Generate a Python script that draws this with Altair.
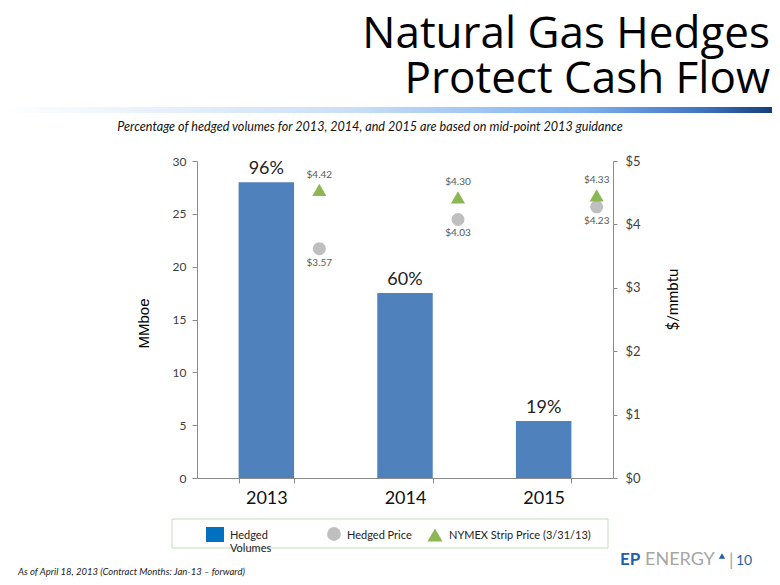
import altair as alt
import pandas as pd

# ---- data ----
years = ["2013", "2014", "2015"]
volumes = [28.0, 17.5, 5.4]            # MMboe
pct_labels = ["96%", "60%", "19%"]
hedged_price = [3.57, 4.03, 4.23]      # $/mmbtu
nymex_price = [4.42, 4.30, 4.33]       # $/mmbtu

df = pd.DataFrame({
    "year": years,
    "volume": volumes,
    "pct": pct_labels,
    "hedged": hedged_price,
    "nymex": nymex_price,
})

# plot-area origin on the page (page x = 197, y = 161)
OX, OY = 197, 161
W, H = 416, 317
CAL = "Lato"
one = pd.DataFrame({"a": [0]})


def txt(text, px, py, size, color="#000000", align="left", font=CAL,
        style="normal", weight="normal", angle=0, baseline="alphabetic"):
    return alt.Chart(one).mark_text(
        text=text, align=align, baseline=baseline, font=font, fontSize=size,
        color=color, fontStyle=style, fontWeight=weight, angle=angle,
    ).encode(x=alt.value(px - OX), y=alt.value(py - OY))


x_axis = alt.Axis(
    title=None, labelAngle=0, labelFont=CAL, labelFontSize=18,
    labelColor="#111111", labelPadding=6, tickBand="extent",
    tickSize=5, tickColor="#8c8c8c", domainColor="#8c8c8c",
)
x_scale = alt.Scale(paddingInner=0.6, paddingOuter=0.3)
x_enc = alt.X("year:N", scale=x_scale, axis=x_axis)

vol_scale = alt.Scale(domain=[0, 30])
price_scale = alt.Scale(domain=[0, 5])

vol_axis = alt.Axis(
    values=[0, 5, 10, 15, 20, 25, 30], grid=False, title="MMboe",
    titleFont="Liberation Sans", titleFontSize=15, titleFontWeight="normal",
    titleColor="#000000", titleAngle=-90, titleX=-54, titleY=162,
    titleAlign="center", titleBaseline="middle",
    labelFont=CAL, labelFontSize=12, labelColor="#404040", labelPadding=6,
    tickSize=5, tickColor="#8c8c8c", domainColor="#8c8c8c",
)

bars = alt.Chart(df).mark_bar(color="#4F81BD").encode(
    x=x_enc,
    y=alt.Y("volume:Q", scale=vol_scale, axis=vol_axis),
)
pct_text = alt.Chart(df).mark_text(
    font=CAL, fontSize=18, color="#222222", baseline="bottom", dy=-4
).encode(
    x=x_enc,
    y=alt.Y("volume:Q", scale=vol_scale, axis=vol_axis),
    text="pct:N",
)
left = alt.layer(bars, pct_text)

price_axis = alt.Axis(
    orient="right", values=[0, 1, 2, 3, 4, 5], grid=False,
    labelExpr="'$' + datum.label", title="$/mmbtu",
    titleFont=CAL, titleFontSize=15, titleFontWeight="normal", titleColor="#000000",
    titleAngle=-90, titleX=59, titleY=138, titleAlign="center", titleBaseline="middle",
    labelFont=CAL, labelFontSize=13, labelColor="#404040", labelPadding=8,
    tickSize=4, tickColor="#8c8c8c", domainColor="#8c8c8c",
)
XOFF = 53
circles = alt.Chart(df).mark_point(
    shape="circle", filled=True, color="#BFBFBF", opacity=1, size=170,
    xOffset=XOFF, yOffset=-3,
).encode(x=x_enc, y=alt.Y("hedged:Q", scale=price_scale, axis=price_axis))
triangles = alt.Chart(df).mark_point(
    shape="triangle-up", filled=True, color="#8DB655", opacity=1, size=200,
    xOffset=XOFF, yOffset=-8,
).encode(x=x_enc, y=alt.Y("nymex:Q", scale=price_scale, axis=price_axis))
circ_lbl = alt.Chart(df).mark_text(
    font=CAL, fontSize=10, color="#595959", baseline="top", xOffset=XOFF, dy=6,
).encode(x=x_enc, y=alt.Y("hedged:Q", scale=price_scale, axis=price_axis),
         text=alt.Text("hedged:Q", format="$.2f"))
tri_lbl = alt.Chart(df).mark_text(
    font=CAL, fontSize=10, color="#595959", baseline="bottom", xOffset=XOFF, dy=-18,
).encode(x=x_enc, y=alt.Y("nymex:Q", scale=price_scale, axis=price_axis),
         text=alt.Text("nymex:Q", format="$.2f"))
right = alt.layer(circles, triangles, circ_lbl, tri_lbl)

# ---- decorations: title, gradient band, subtitle, legend, footer ----
band = alt.Chart(one).mark_rect(
    color=alt.LinearGradient(
        gradient="linear", x1=0, x2=1, y1=0, y2=0,
        stops=[
            alt.GradientStop(offset=0, color="#FFFFFF"),
            alt.GradientStop(offset=0.45, color="#C9DFF7"),
            alt.GradientStop(offset=0.75, color="#7DB0EC"),
            alt.GradientStop(offset=0.9, color="#3F74C0"),
            alt.GradientStop(offset=1, color="#12376E"),
        ],
    )
).encode(x=alt.value(0 - OX), x2=alt.value(780 - OX),
         y=alt.value(107 - OY), y2=alt.value(113 - OY))

legend_box = alt.Chart(one).mark_rect(
    fill="white", fillOpacity=0, stroke="#C4DDBF", strokeWidth=1
).encode(x=alt.value(172 - OX), x2=alt.value(608 - OX),
         y=alt.value(519 - OY), y2=alt.value(548 - OY))
leg_sq = alt.Chart(one).mark_rect(color="#0070C0").encode(
    x=alt.value(206 - OX), x2=alt.value(224 - OX),
    y=alt.value(527 - OY), y2=alt.value(542 - OY))
leg_circ = alt.Chart(one).mark_point(
    shape="circle", filled=True, color="#BFBFBF", opacity=1, size=190
).encode(x=alt.value(334 - OX), y=alt.value(534 - OY))
leg_tri = alt.Chart(one).mark_point(
    shape="triangle-up", filled=True, color="#8DB655", opacity=1, size=230
).encode(x=alt.value(435 - OX), y=alt.value(535 - OY))
logo_tri = alt.Chart(one).mark_point(
    shape="triangle-up", filled=True, color="#1F5FA8", opacity=1, size=40
).encode(x=alt.value(722 - OX), y=alt.value(556 - OY))

decor = [
    band,
    txt("Natural Gas Hedges", 770, 48, 44, align="right", font="Open Sans"),
    txt("Protect Cash Flow", 770, 93, 44, align="right", font="Open Sans"),
    txt("Percentage of hedged volumes for 2013, 2014, and 2015 are based on mid-point 2013 guidance",
        370, 131, 12.6, align="center", style="italic", color="#111111"),
    legend_box, leg_sq, leg_circ, leg_tri,
    txt("Hedged", 230, 539, 11, color="#222222"),
    txt("Volumes", 230, 552, 11, color="#222222"),
    txt("Hedged Price", 347, 539, 11, color="#222222"),
    txt("NYMEX  Strip Price (3/31/13)", 449, 539, 11, color="#222222"),
    txt("As of April 18, 2013 (Contract Months:  Jan-13 \u2013 forward)", 18, 575, 9.5,
        style="italic", color="#222222"),
    txt("EP", 620, 565, 17, color="#1F5FA8", weight="bold"),
    txt("ENERGY", 645, 565, 18, color="#A6A6A6"),
    logo_tri,
    txt("|", 729, 566, 18, color="#A6A6A6"),
    txt("10", 736, 565, 14, color="#1F5FA8"),
]

chart = alt.layer(left, right, *decor).resolve_scale(y="independent").properties(
    width=W, height=H,
    padding={"left": OX - 8, "top": OY - 8, "right": 780 - 16 - (OX - 8) - W,
             "bottom": 585 - 16 - (OY - 8) - H},
    autosize=alt.AutoSizeParams(type="none"),
    background="white",
).configure_view(stroke=None)

chart.save("out.html", embed_options={"renderer": "svg", "actions": False})
